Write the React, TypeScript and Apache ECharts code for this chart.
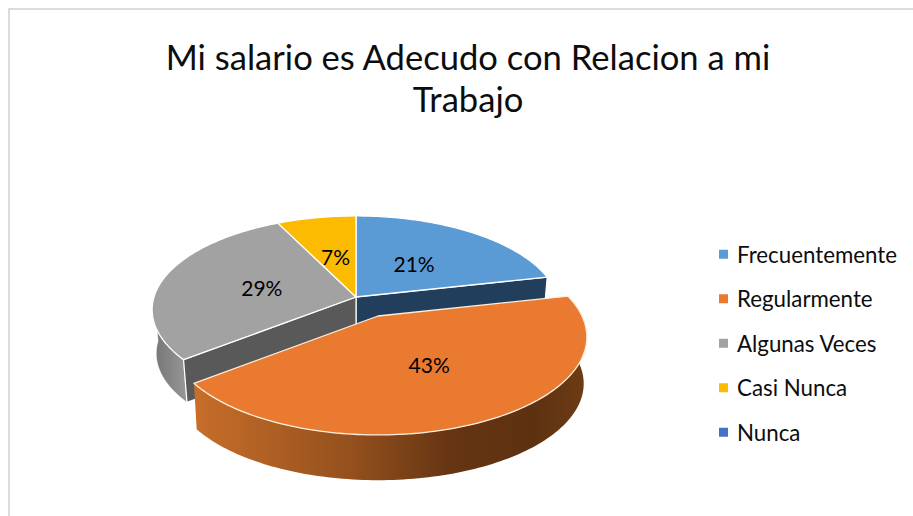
import React, { useEffect, useRef } from "react";
import * as echarts from "echarts";

const titleLines = ["Mi salario es Adecudo con Relacion a mi", "Trabajo"];
const categories = ["Frecuentemente", "Regularmente", "Algunas Veces", "Casi Nunca", "Nunca"];
const values = [3, 6, 4, 1, 0];
const colors = ["#5b9bd5", "#e97a30", "#a2a2a2", "#fcbb00", "#4472c4"];
const FONT = "Lato, Carlito, sans-serif";

const total = values.reduce((a, b) => a + b, 0);
const main = { cx: 356, cy: 297, R: 202, T: 92, p: 0.135, depth: 44, shrink: 0.98, labelAt: 0.485 };
const exploded = { cx: 378, cy: 316, R: 204, T: 93.5, p: 0.214, depth: 47, shrink: 0.985, labelAt: 0.52 };

function project(g: any, a: number, rho: number, lower = false) {
  const u = Math.sin(a) * rho;
  const v = -Math.cos(a) * rho;
  const f = 1 / (1 - g.p * v);
  const s = lower ? g.shrink : 1;
  return [g.cx + g.R * u * f * s, g.cy + g.T * v * f * s + (lower ? g.depth : 0)];
}

function arcPoints(g: any, a0: number, a1: number, lower = false) {
  const n = Math.max(2, Math.ceil(Math.abs(a1 - a0) / 0.02));
  const pts: number[][] = [];
  for (let k = 0; k <= n; k++) pts.push(project(g, a0 + ((a1 - a0) * k) / n, 1, lower));
  return pts;
}

function renderSlice(index: number) {
  return (_params: any, api: any) => {
    const value = api.value(0);
    if (!value) return { type: "group", children: [] };
    const before = values.slice(0, index).reduce((a, b) => a + b, 0);
    const a0 = (before / total) * Math.PI * 2;
    const a1 = ((before + value) / total) * Math.PI * 2;
    const isExploded = index === 1;
    const g = isExploded ? exploded : main;
    const children: any[] = [];
    const edge = isExploded ? "#fdeedd" : "#ffffff";

    if (isExploded) {
      children.push({
        type: "polygon",
        shape: { points: [...arcPoints(g, a0, a1), ...arcPoints(g, a1, a0, true)] },
        style: {
          fill: new echarts.graphic.LinearGradient(1, 0, 0, 0, [
            { offset: 0, color: "#6e3c16" },
            { offset: 0.14, color: "#5d3110" },
            { offset: 0.35, color: "#663513" },
            { offset: 0.6, color: "#94501d" },
            { offset: 1, color: "#c76e2a" },
          ]),
        },
      });
    } else if (index === 2) {
      const wallEnd = Math.PI * 1.5;
      children.push({
        type: "polygon",
        shape: { points: [...arcPoints(g, a0, wallEnd), ...arcPoints(g, wallEnd, a0, true)] },
        style: {
          fill: new echarts.graphic.LinearGradient(0, 0, 1, 0, [
            { offset: 0, color: "#747474" },
            { offset: 1, color: "#979797" },
          ]),
          stroke: "#ffffff",
          lineWidth: 0.6,
        },
      });
      const corner = project(g, a0, 1);
      const cornerLow = project(g, a0, 1, true);
      children.push({
        type: "polygon",
        shape: { points: [[g.cx, g.cy], corner, cornerLow, [g.cx, g.cy + g.depth]] },
        style: { fill: "#595959", stroke: "#ffffff", lineWidth: 1.2 },
      });
    } else if (index === 0) {
      const corner = project(g, a1, 1);
      const cornerLow = project(g, a1, 1, true);
      children.push({
        type: "polygon",
        shape: { points: [[g.cx, g.cy], corner, cornerLow, [g.cx, g.cy + g.depth]] },
        style: { fill: "#213f5c", stroke: "#ffffff", lineWidth: 1.2 },
      });
    }

    children.push({
      type: "polygon",
      shape: { points: [[g.cx, g.cy], ...arcPoints(g, a0, a1)] },
      style: { fill: colors[index], stroke: edge, lineWidth: 1.3, lineJoin: "round" },
    });

    const mid = (a0 + a1) / 2;
    const [lx, ly] = project(g, mid, g.labelAt);
    children.push({
      type: "text",
      style: {
        x: lx,
        y: ly,
        text: `${Math.round((value / total) * 100)}%`,
        align: "center",
        verticalAlign: "middle",
        font: `21px ${FONT}`,
        fill: "#000000",
      },
      z2: 10,
    });
    return { type: "group", children };
  };
}

export default function App() {
  const ref = useRef<HTMLDivElement>(null);
  useEffect(() => {
    const chart = echarts.init(ref.current!, null, { renderer: "svg" });
    chart.setOption({
      animation: false,
      backgroundColor: "#ffffff",
      title: {
        text: titleLines.join("\n"),
        left: 463,
        top: 30,
        textAlign: "center",
        textStyle: { fontFamily: FONT, fontSize: 34.6, fontWeight: "normal", color: "#0d0d0d", lineHeight: 42 },
      },
      legend: {
        orient: "vertical",
        left: 714,
        top: 237,
        itemWidth: 9,
        itemHeight: 9,
        itemGap: 20,
        icon: "rect",
        selectedMode: false,
        data: categories,
        textStyle: { fontFamily: FONT, fontSize: 22.3, color: "#0d0d0d", lineHeight: 24.5, padding: [0, 0, 0, 4] },
      },
      graphic: [
        {
          type: "rect",
          shape: { x: 9, y: 9, width: 1000, height: 1000 },
          style: { fill: "none", stroke: "#dcdcdc", lineWidth: 2 },
          silent: true,
          z: -1,
        },
      ],
      series: categories.map((name, i) => ({
        type: "custom",
        name,
        coordinateSystem: "none",
        z: i === 1 ? 5 : 3,
        silent: true,
        itemStyle: { color: colors[i] },
        data: [{ name, value: [values[i]] }],
        renderItem: renderSlice(i),
      })),
    });
    return () => chart.dispose();
  }, []);
  return <div ref={ref} style={{ position: "absolute", left: 0, top: 0, width: 913, height: 516 }} />;
}
